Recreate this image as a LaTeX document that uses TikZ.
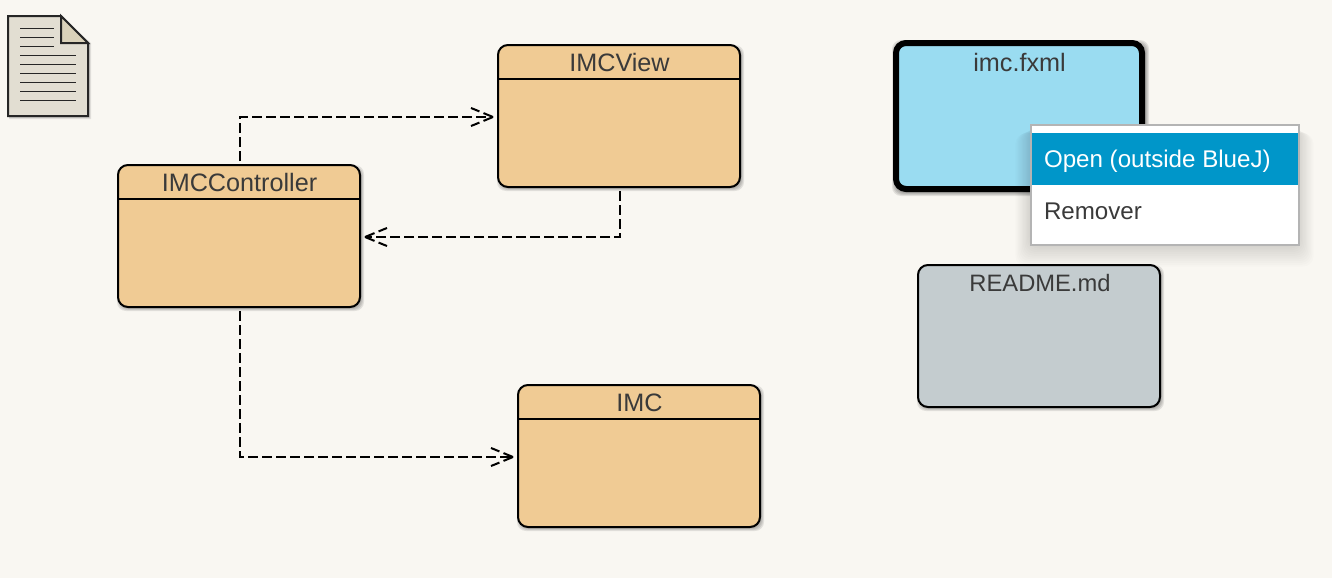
\documentclass[tikz,border=0pt]{standalone}
\usepackage{fontspec}
\setmainfont{Liberation Sans}
\usetikzlibrary{arrows.meta,calc}
\definecolor{bgc}{HTML}{F9F7F2}
\definecolor{orangec}{HTML}{F0CB94}
\definecolor{bluec}{HTML}{9ADCF1}
\definecolor{grayc}{HTML}{C4CCCF}
\definecolor{docc}{HTML}{E2DED2}
\definecolor{foldc}{HTML}{DAD2BA}
\definecolor{txt}{HTML}{3A3A3A}
\definecolor{hilite}{HTML}{0096C9}
\definecolor{menuline}{HTML}{B4B4B4}
\pgfdeclarearrow{
  name=DashBarb,
  setup code={
    \pgfarrowssettipend{0pt}
    \pgfarrowssetlineend{0pt}
    \pgfarrowssetbackend{-16.5pt}
    \pgfarrowssetvisualbackend{0pt}
    \pgfarrowshullpoint{0pt}{0pt}
    \pgfarrowshullpoint{-16.5pt}{6.75pt}
    \pgfarrowshullpoint{-16.5pt}{-6.75pt}
  },
  drawing code={
    \pgfsetlinewidth{1.5pt}
    \pgfsetbuttcap
    \pgfpathmoveto{\pgfpoint{0pt}{0pt}}\pgfpathlineto{\pgfpoint{-7.8pt}{3.2pt}}
    \pgfpathmoveto{\pgfpoint{-10.2pt}{4.2pt}}\pgfpathlineto{\pgfpoint{-16.5pt}{6.75pt}}
    \pgfpathmoveto{\pgfpoint{0pt}{0pt}}\pgfpathlineto{\pgfpoint{-7.8pt}{-3.2pt}}
    \pgfpathmoveto{\pgfpoint{-10.2pt}{-4.2pt}}\pgfpathlineto{\pgfpoint{-16.5pt}{-6.75pt}}
    \pgfusepathqstroke
  }
}
\tikzset{
  x=0.75pt,y=-0.75pt,
  every node/.style={inner sep=0pt,outer sep=0pt,text=txt},
  classbox/.style={rectangle,rounded corners=7.5pt,minimum width=181.5pt,minimum height=106.5pt,draw=black,line width=1.5pt,fill=orangec},
  headtext/.style={font=\fontsize{18.9pt}{20pt}\selectfont,anchor=base},
  menutext/.style={font=\fontsize{18.1pt}{20pt}\selectfont,anchor=base west},
  dep/.style={draw=black,line width=1.5pt,dash pattern=on 7.7pt off 2.8pt,-{DashBarb},shorten <=3pt,shorten >=3.75pt},
}
\newcommand{\softshadow}[5]{% x1 y1 x2 y2 radius(px)
  \foreach \g in {0,1,2,3}{
    \fill[black,opacity=0.09,rounded corners=#5*0.75pt]
      (#1+2-\g,#2+3-\g) rectangle (#3+1+\g,#4+1+\g);
  }
}
\begin{document}
\begin{tikzpicture}
\useasboundingbox (0,0) rectangle (1332,578);
\fill[bgc] (0,0) rectangle (1332,578);
% document icon
\foreach \g in {0,1,2,3}{
  \fill[black,opacity=0.09] (9,17) -- (61,17) -- (88+\g,43) -- (88+\g,116+\g) -- (9,116+\g) -- cycle;
}
\draw[fill=docc,draw=black!85,line width=1.5pt,line join=miter] (8,16) -- (61,16) -- (88,43) -- (88,116) -- (8,116) -- cycle;
\draw[fill=foldc,draw=black!85,line width=1.5pt] (61,16) -- (88,43) -- (61,43) -- cycle;
\foreach \yy in {28.5,37.5,46.5} \draw[black!85,line width=0.8pt] (20,\yy) -- (54,\yy);
\foreach \yy in {55.5,64.5,73.5,82.5,91.5,100.5} \draw[black!85,line width=0.8pt] (20,\yy) -- (76,\yy);
% shadows
\softshadow{118}{165}{360}{307}{9}
\softshadow{498}{45}{740}{187}{9}
\softshadow{518}{385}{760}{527}{9}
\softshadow{918}{265}{1160}{407}{9}
\softshadow{893}{40}{1145}{192}{9}
% class boxes
\node[classbox] (ctrl) at (239,236) {};
\node[classbox] (view) at (619,116) {};
\node[classbox] (imc) at (639,456) {};
\draw[black,line width=1.5pt] (ctrl.west|-0,199) coordinate (ch1) -- (ctrl.east|-0,199) coordinate (ch2);
\draw[black,line width=1.5pt] (view.west|-0,79) coordinate (vh1) -- (view.east|-0,79) coordinate (vh2);
\draw[black,line width=1.5pt] (imc.west|-0,419) coordinate (ih1) -- (imc.east|-0,419) coordinate (ih2);
\node[headtext] (ctrlt) at (239.5,191.5) {IMCController};
\node[headtext] (viewt) at (619.5,71.5) {IMCView};
\node[headtext] (imct) at (639.5,411.5) {IMC};
% file boxes
\node[classbox,fill=bluec,line width=4.5pt,minimum width=184.5pt,minimum height=109.5pt] (fxml) at (1019,116) {};
\node[classbox,fill=grayc] (readme) at (1039,336) {};
\node[headtext] (fxmlt) at (1019.5,71.5) {imc.fxml};
\node[headtext,font=\fontsize{17.8pt}{20pt}\selectfont] (readmet) at (1040,291.5) {README.md};
% connectors
\draw[dep] ([xshift=.75pt]ctrl.north) |- ([yshift=-.75pt]view.west);
\draw[dep] ([xshift=.75pt]view.south) |- ([yshift=-.75pt]ctrl.east);
\draw[dep] ([xshift=.75pt]ctrl.south) |- ([yshift=-.75pt]imc.west);
% context menu
\foreach \g in {1,...,12}{
  \fill[black,opacity=0.011,rounded corners=8pt] (1031-\g*1.3,126+\g*0.6) rectangle (1298+\g*1.3,245+\g*1.8);
}
\node[rectangle,draw=menuline,line width=1.5pt,fill=white,minimum width=201pt,minimum height=90pt,anchor=north west] (menu) at (1031,125) {};
\fill[hilite] (1032,133) rectangle (1298,185);
\node[menutext,text=white] (open) at (1044,167.5) {Open (outside BlueJ)};
\node[menutext] (rem) at (1044,219.5) {Remover};
\end{tikzpicture}
\end{document}
